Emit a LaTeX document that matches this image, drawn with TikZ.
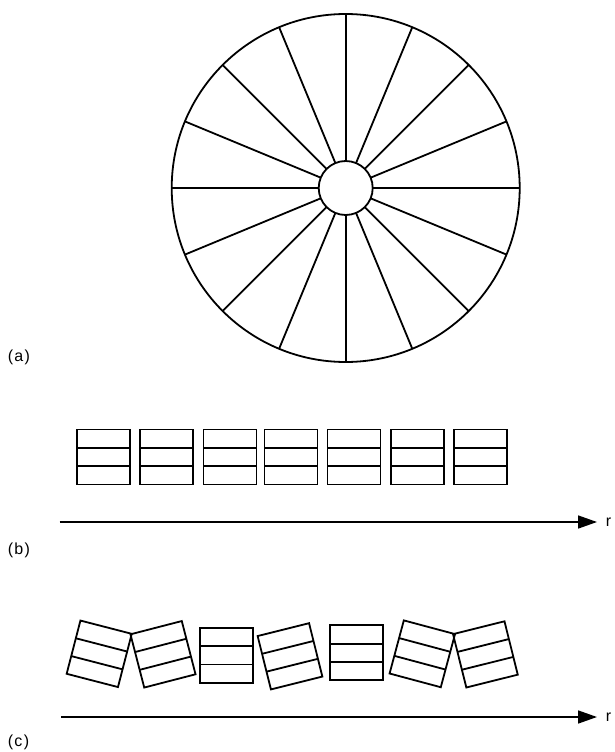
\documentclass[tikz,border=0pt]{standalone}
\usepackage{fontspec}
\setmainfont{Liberation Sans}
\usetikzlibrary{arrows.meta,calc}
\begin{document}
\begin{tikzpicture}[x=1pt,y=-1pt,line width=1.8pt,
  lbl/.style={font=\fontsize{16}{18}\selectfont\addfontfeature{LetterSpace=8},inner sep=0pt,anchor=west},
  axis/.style={line width=1.6pt,-{Triangle[length=19pt,width=13pt]}},
  stack/.style={line width=1.8pt,line join=miter}]
\useasboundingbox (0,0) rectangle (615,752);
% (a) wheel
\coordinate (c) at (345.7,188);
\draw (c) circle[radius=174];
\draw (c) circle[radius=27];
\foreach \k in {0,...,15}{
  \draw ($(c)+(\k*22.5:27)$) -- ($(c)+(\k*22.5:174)$);
}
\node[lbl] (la) at (7,357) {(a)};
% (b)
\foreach \cx in {103.5,166.5,230,291,354,417.5,480.5}{
  \begin{scope}[shift={(\cx,457)}]
    \draw[stack] (-26.5,-27.5) rectangle (26.5,27.5);
    \draw[stack] (-26.5,-9.2) -- (26.5,-9.2) (-26.5,9.2) -- (26.5,9.2);
  \end{scope}
}
\coordinate (b0) at (59.5,522);
\coordinate (b1) at (597,522);
\draw[axis] (b0) -- (b1);
\node[lbl] (rb) at (605,522) {r};
\node[lbl] (lb) at (7,550) {(b)};
% (c)
\foreach \cx/\cy/\ang in {99.2/653.8/-14.5,163/654.3/14.5,226.3/655.2/0,290/656.3/14,356.7/652.8/0,422.3/653.8/-15,485.4/654.4/14}{
  \begin{scope}[shift={(\cx,\cy)},rotate=\ang]
    \draw[stack] (-26.5,-27.5) rectangle (26.5,27.5);
    \draw[stack] (-26.5,-9.2) -- (26.5,-9.2) (-26.5,9.2) -- (26.5,9.2);
  \end{scope}
}
\coordinate (c0) at (61,717);
\coordinate (c1) at (597,717);
\draw[axis] (c0) -- (c1);
\node[lbl] (rc) at (605,717) {r};
\node[lbl] (lc) at (7,742) {(c)};
\end{tikzpicture}
\end{document}
